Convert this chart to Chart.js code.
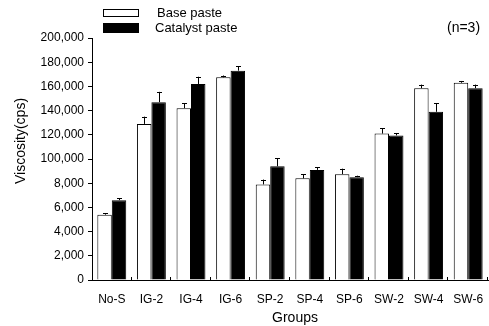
<!DOCTYPE html>
<html>
<head>
<meta charset="utf-8">
<script src="https://cdn.jsdelivr.net/npm/chart.js@4/dist/chart.umd.min.js"></script>
<style>
  html, body { margin: 0; padding: 0; background: #fff; }
  #wrap { width: 489px; height: 326px; position: relative; }
</style>
</head>
<body>
<div id="wrap"><canvas id="c" width="489" height="326"></canvas></div>
<script>
const categories = ['No-S','IG-2','IG-4','IG-6','SP-2','SP-4','SP-6','SW-2','SW-4','SW-6'];
const baseValues = [54000,129000,142000,167500,79000,84000,87500,121000,158500,163000];
const baseErrors = [1000,6000,4000,1500,4000,3500,4500,4500,3000,1500];
const catalystValues = [66000,147000,162000,173000,94000,91000,85000,119500,139000,158500];
const catalystErrors = [1500,8500,6000,3500,6500,2000,1200,2000,7000,3000];
const yTickLabels = ['0','2,000','4,000','6,000','8,000','100,000','120,000','140,000','160,000','180,000','200,000'];
const seriesNames = ['Base paste','Catalyst paste'];
const FONT = '"Liberation Sans", Arial, sans-serif';

const extras = {
  id: 'extras',
  afterDatasetsDraw(chart) {
    const ctx = chart.ctx;
    const y = chart.scales.y, x = chart.scales.x;
    const errs = [baseErrors, catalystErrors];
    const vals = [baseValues, catalystValues];
    ctx.save();
    ctx.strokeStyle = '#000';
    ctx.lineWidth = 1;
    for (let d = 0; d < 2; d++) {
      const meta = chart.getDatasetMeta(d);
      meta.data.forEach((bar, i) => {
        const bx = Math.round(bar.x) + 0.5;
        const yTop = y.getPixelForValue(vals[d][i]);
        const yErr = y.getPixelForValue(vals[d][i] + errs[d][i]);
        ctx.beginPath();
        ctx.moveTo(bx, yTop);
        ctx.lineTo(bx, yErr);
        ctx.moveTo(bx - 2.5, Math.round(yErr) + 0.5);
        ctx.lineTo(bx + 2.5, Math.round(yErr) + 0.5);
        ctx.stroke();
      });
    }
    // inward ticks on x axis between categories
    const n = categories.length;
    const w = (x.right - x.left) / n;
    ctx.beginPath();
    for (let k = 1; k <= n; k++) {
      const px = Math.round(x.left + k * w) - 0.5;
      ctx.moveTo(px, x.top);
      ctx.lineTo(px, x.top - 3);
    }
    ctx.stroke();
    ctx.restore();
  },
  afterDraw(chart) {
    const ctx = chart.ctx;
    ctx.save();
    // legend
    ctx.lineWidth = 1;
    ctx.strokeStyle = '#000';
    ctx.fillStyle = '#fff';
    ctx.fillRect(103.5, 9.5, 35, 7);
    ctx.strokeRect(103.5, 9.5, 35, 7);
    ctx.fillStyle = '#000';
    ctx.fillRect(103, 23, 36, 10);
    ctx.font = '13px ' + FONT;
    ctx.textBaseline = 'middle';
    ctx.textAlign = 'left';
    ctx.fillText(seriesNames[0], 157, 13);
    ctx.fillText(seriesNames[1], 155, 28);
    // n=3
    ctx.font = '14px ' + FONT;
    ctx.fillText('(n=3)', 447, 28);
    // axis titles
    ctx.textAlign = 'center';
    ctx.fillText('Groups', 295, 318);
    ctx.translate(21, 141);
    ctx.rotate(-Math.PI / 2);
    ctx.fillText('Viscosity(cps)', 0, 0);
    ctx.restore();
  }
};

new Chart(document.getElementById('c'), {
  type: 'bar',
  data: {
    labels: categories,
    datasets: [
      { label: seriesNames[0], data: baseValues, backgroundColor: '#ffffff', borderColor: '#000000', borderWidth: 1 },
      { label: seriesNames[1], data: catalystValues, backgroundColor: '#000000', borderColor: '#000000', borderWidth: 1 }
    ]
  },
  options: {
    responsive: false,
    animation: false,
    layout: { padding: { left: 0, right: 1, top: 38, bottom: 0 } },
    datasets: { bar: { categoryPercentage: 0.73, barPercentage: 1.0 } },
    plugins: { legend: { display: false }, tooltip: { enabled: false } },
    scales: {
      x: {
        grid: { display: false },
        border: { display: true, color: '#000', width: 1 },
        ticks: { color: '#000', font: { family: FONT, size: 12 }, padding: 4, maxRotation: 0, autoSkip: false },
        afterFit(s) { s.height = 46; }
      },
      y: {
        min: 0, max: 200000,
        grid: { drawOnChartArea: false, drawTicks: true, tickLength: 4, color: '#000' },
        border: { display: true, color: '#000', width: 1 },
        ticks: {
          stepSize: 20000, color: '#000', padding: 4,
          font: { family: FONT, size: 12 },
          callback: (v, i) => yTickLabels[i]
        },
        afterFit(s) { s.width = 92; }
      }
    }
  },
  plugins: [extras]
});
</script>
</body>
</html>
